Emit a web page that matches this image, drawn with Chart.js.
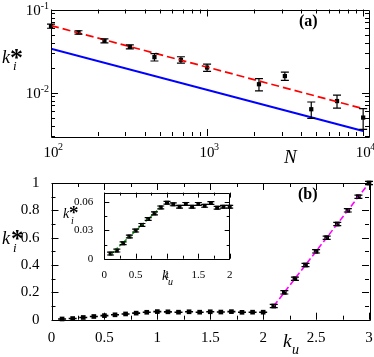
<!DOCTYPE html>
<html>
<head>
<meta charset="utf-8">
<script src="https://cdn.jsdelivr.net/npm/chart.js@4"></script>
<style>
  body { margin: 0; background: #fff; }
  #wrap { position: relative; width: 374px; height: 357px; }
  canvas { position: absolute; }
</style>
</head>
<body>
<div id="wrap">
  <canvas id="chartA" width="374" height="170" style="left:0;top:0"></canvas>
  <canvas id="chartB" width="374" height="187" style="left:0;top:170px"></canvas>
  <canvas id="inset" width="175" height="110" style="left:60px;top:183px"></canvas>
</div>
<script>
// (a) k_i* vs N
var sizeN = [100, 150, 220, 320, 460, 680, 1000, 2150, 3150, 4650, 6800, 10000];
var kiN = [0.063, 0.053, 0.042, 0.0355, 0.0267, 0.0248, 0.0200, 0.0126, 0.0158, 0.0063, 0.0079, 0.0050];
var kiNErr = [0.0035, 0.0025, 0.0024, 0.002, 0.0027, 0.0022, 0.002, 0.0021, 0.0018, 0.0014, 0.0014, 0.0014];
var fitN = [100, 10000];
var redFit = [0.064, 0.0064];
var blueFit = [0.0338, 0.00344];

// (b) k_i* vs k_u
var ku = [0.1, 0.2, 0.3, 0.4, 0.5, 0.6, 0.7, 0.8, 0.9, 1.0,
          1.1, 1.2, 1.3, 1.4, 1.5, 1.6, 1.7, 1.8, 1.9, 2.0,
          2.1, 2.2, 2.3, 2.4, 2.5, 2.6, 2.7, 2.8, 2.9, 3.0];
var kiU = [0.0054, 0.0086, 0.0163, 0.0235, 0.0298, 0.0358, 0.0421, 0.048, 0.0543, 0.0593,
           0.0576, 0.055, 0.058, 0.055, 0.058, 0.056, 0.059, 0.054, 0.055, 0.055,
           0.1, 0.2, 0.3, 0.4, 0.5, 0.6, 0.7, 0.8, 0.9, 1.0];
var kiUErr = [0.0015, 0.0015, 0.0015, 0.0015, 0.0015, 0.0015, 0.0015, 0.0015, 0.0015, 0.0015,
              0.0015, 0.0015, 0.0015, 0.0015, 0.0015, 0.0015, 0.0015, 0.0015, 0.0015, 0.0015,
              0.012, 0.012, 0.012, 0.012, 0.012, 0.012, 0.012, 0.012, 0.012, 0.012];
var greenX = [0.1, 0.9];
var greenFit = [0.0045, 0.0545];
var magentaX = [2.1, 3.0];
var magentaFit = [0.1, 1.0];

// tick values and labels
var aXTicks = [100, 1000, 10000], aXExp = ['2', '3', '4'];
var aYTicks = [0.01, 0.1], aYExp = ['-2', '-1'];
var bXTicks = [0, 0.5, 1, 1.5, 2, 2.5, 3], bXLabels = ['0', '0.5', '1', '1.5', '2', '2.5', '3'];
var bYTicks = [0, 0.2, 0.4, 0.6, 0.8, 1], bYLabels = ['0', '0.2', '0.4', '0.6', '0.8', '1'];
var inXTicks = [0, 0.5, 1, 1.5, 2], inXLabels = ['0', '0.5', '1', '1.5', '2'];
var inYTicks = [0, 0.03, 0.06], inYLabels = ['0', '0.03', '0.06'];

var SERIF = '"Liberation Serif", "Times New Roman", serif';

function pts(xs, ys) {
  return xs.map(function (x, i) { return { x: x, y: ys[i] }; });
}
function steps(a, b, s) {
  var out = [];
  for (var v = a; v <= b + 1e-9; v += s) out.push(+v.toFixed(4));
  return out;
}
function logMinor(lo, hi) {
  var out = [];
  for (var d = 1e-4; d <= 1e5; d *= 10)
    for (var m = 2; m <= 9; m++) { var v = m * d; if (v >= lo && v <= hi) out.push(v); }
  return out;
}

var errorBars = {
  id: 'errorBars',
  afterDatasetsDraw: function (chart) {
    var ctx = chart.ctx;
    chart.data.datasets.forEach(function (ds, i) {
      if (!ds.errors) return;
      var meta = chart.getDatasetMeta(i);
      var ys = chart.scales[meta.yAxisID];
      var half = (ds.capWidth || 8) / 2;
      ctx.save();
      ctx.strokeStyle = '#000';
      ctx.lineWidth = 1.2;
      meta.data.forEach(function (p, j) {
        var v = ds.data[j].y, e = ds.errors[j];
        var y1 = ys.getPixelForValue(v - e), y2 = ys.getPixelForValue(v + e);
        ctx.beginPath();
        ctx.moveTo(p.x, y1); ctx.lineTo(p.x, y2);
        ctx.moveTo(p.x - half, y1); ctx.lineTo(p.x + half, y1);
        ctx.moveTo(p.x - half, y2); ctx.lineTo(p.x + half, y2);
        ctx.stroke();
      });
      ctx.restore();
    });
  }
};

var frame = {
  id: 'frame',
  afterDraw: function (chart, args, o) {
    var ctx = chart.ctx, a = chart.chartArea;
    var xs = chart.scales.x, ys = chart.scales.y;
    ctx.save();
    ctx.strokeStyle = '#000';
    ctx.lineWidth = 1;
    ctx.beginPath();
    function vt(vals, len) {
      vals.forEach(function (v) {
        var px = Math.round(xs.getPixelForValue(v)) + 0.5;
        ctx.moveTo(px, a.bottom); ctx.lineTo(px, a.bottom - len);
        ctx.moveTo(px, a.top); ctx.lineTo(px, a.top + len);
      });
    }
    function ht(vals, len) {
      vals.forEach(function (v) {
        var py = Math.round(ys.getPixelForValue(v)) + 0.5;
        ctx.moveTo(a.left, py); ctx.lineTo(a.left + len, py);
        ctx.moveTo(a.right, py); ctx.lineTo(a.right - len, py);
      });
    }
    vt(o.xMajor, o.major); vt(o.xMinor, o.minor);
    ht(o.yMajor, o.major); ht(o.yMinor, o.minor);
    ctx.rect(Math.round(a.left) + 0.5, Math.round(a.top) + 0.5,
             Math.round(a.right - a.left), Math.round(a.bottom - a.top));
    ctx.stroke();

    // text: [text, x, y, font]
    ctx.fillStyle = '#000';
    ctx.textBaseline = 'alphabetic';
    (o.texts || []).forEach(function (t) {
      ctx.font = t[3] + ' ' + SERIF;
      ctx.textAlign = t[4] || 'left';
      ctx.fillText(t[0], t[1], t[2]);
    });

    // powers of ten
    if (o.logLabels) {
      o.logLabels.x.forEach(function (v, i) {
        var px = xs.getPixelForValue(v);
        ctx.font = '15px ' + SERIF;
        ctx.textAlign = 'center';
        ctx.fillText('10', px, a.bottom + 21);
        var w = ctx.measureText('10').width;
        ctx.font = '10px ' + SERIF;
        ctx.textAlign = 'left';
        ctx.fillText(o.logLabels.xe[i], px + w / 2 - 0.5, a.bottom + 14);
      });
      o.logLabels.y.forEach(function (v, i) {
        var py = ys.getPixelForValue(v);
        ctx.font = '10px ' + SERIF;
        ctx.textAlign = 'right';
        var ew = ctx.measureText(o.logLabels.ye[i]).width;
        ctx.fillText(o.logLabels.ye[i], a.left - 2, py - 1);
        ctx.font = '15px ' + SERIF;
        ctx.fillText('10', a.left - 2 - ew, py + 5);
      });
    }
    ctx.restore();
  }
};

function axis(type, min, max, fit, ticks, labels, font, pad) {
  return {
    type: type, min: min, max: max,
    grid: { display: false }, border: { display: false },
    afterBuildTicks: ticks ? function (s) { s.ticks = ticks.map(function (v) { return { value: v }; }); } : undefined,
    ticks: labels ? {
      color: '#000', padding: pad, maxRotation: 0, autoSkip: false,
      font: { family: SERIF, size: font },
      callback: function (v) { var k = ticks.indexOf(v); return k < 0 ? '' : labels[k]; }
    } : { display: false },
    afterFit: function (s) { if (s.isHorizontal()) s.height = fit; else s.width = fit; }
  };
}

function baseOptions(pad, xAxis, yAxis, frameOpts) {
  return {
    responsive: false, animation: false, events: [],
    layout: { padding: pad },
    plugins: { legend: { display: false }, tooltip: { enabled: false }, frame: frameOpts },
    scales: { x: xAxis, y: yAxis }
  };
}

// panel (a)
new Chart(document.getElementById('chartA'), {
  type: 'scatter',
  data: {
    datasets: [
      { data: pts(fitN, redFit), showLine: true, borderColor: '#ff0000', borderWidth: 1.7, borderDash: [8, 4], pointRadius: 0 },
      { data: pts(fitN, blueFit), showLine: true, borderColor: '#0000ff', borderWidth: 2, pointRadius: 0 },
      { data: pts(sizeN, kiN), errors: kiNErr, capWidth: 8, pointStyle: 'rect', pointRadius: 3,
        backgroundColor: '#000', borderColor: '#000', borderWidth: 0, clip: false }
    ]
  },
  options: baseOptions({ top: 9.5, right: 5, left: 0, bottom: 0 },
    axis('logarithmic', 100, 10900, 34, aXTicks, null),
    axis('logarithmic', 0.003, 0.1, 51, aYTicks, null),
    {
      xMajor: aXTicks, xMinor: logMinor(100, 10900), yMajor: aYTicks, yMinor: logMinor(0.003, 0.1),
      major: 7, minor: 4,
      logLabels: { x: aXTicks, xe: aXExp, y: aYTicks, ye: aYExp },
      texts: [
        ['k', 2, 63, 'italic 18px'], ['i', 13, 70, 'italic 13px'], ['*', 10, 66, 'bold 26px'],
        ['N', 284, 163, 'italic 19px'],
        ['(a)', 299, 26, 'bold 16px']
      ]
    }),
  plugins: [errorBars, frame]
});

// panel (b)
new Chart(document.getElementById('chartB'), {
  type: 'scatter',
  data: {
    datasets: [
      { data: pts(magentaX, magentaFit), showLine: true, borderColor: '#ff00ff', borderWidth: 1.6, borderDash: [6, 3], pointRadius: 0 },
      { data: pts(ku, kiU), errors: kiUErr, capWidth: 8, pointStyle: 'rect', pointRadius: 3.3,
        backgroundColor: '#000', borderColor: '#000', borderWidth: 0, clip: false }
    ]
  },
  options: baseOptions({ top: 9, right: 5, left: 0, bottom: 0 },
    axis('linear', 0, 3, 37.3, bXTicks, bXLabels, 15, 1),
    axis('linear', 0, 1, 51.5, bYTicks, bYLabels, 15, 4),
    {
      xMajor: bXTicks, xMinor: steps(0.25, 2.75, 0.5), yMajor: bYTicks, yMinor: steps(0.1, 0.9, 0.2),
      major: 7, minor: 4,
      texts: [
        ['k', 2, 74, 'italic 18px'], ['i', 13, 82, 'italic 13px'], ['*', 11, 77, 'bold 25px'],
        ['k', 283, 177, 'italic 19px'], ['u', 292, 184, 'italic 14px'],
        ['(b)', 298, 29, 'bold 16px']
      ]
    }),
  plugins: [errorBars, frame]
});

// inset of (b)
new Chart(document.getElementById('inset'), {
  type: 'scatter',
  data: {
    datasets: [
      { data: pts(greenX, greenFit), showLine: true, borderColor: '#1e9e1e', borderWidth: 1.5, borderDash: [4, 2], pointRadius: 0 },
      { data: pts(ku.slice(0, 20), kiU.slice(0, 20)), errors: kiUErr.slice(0, 20), capWidth: 7, pointStyle: 'rect', pointRadius: 2.8,
        backgroundColor: '#000', borderColor: '#000', borderWidth: 0, clip: false }
    ]
  },
  options: baseOptions({ top: 5.3, right: 5.3, left: 0, bottom: 0 },
    axis('linear', 0, 2, 34.3, inXTicks, inXLabels, 11, 2),
    axis('linear', 0, 0.07, 44.3, inYTicks, inYLabels, 11, 3),
    {
      xMajor: inXTicks, xMinor: steps(0.25, 1.75, 0.5), yMajor: inYTicks, yMinor: [0.015, 0.045],
      major: 5, minor: 3,
      texts: [
        ['k', 3, 35, 'italic 14px'], ['i', 11, 41, 'italic 10px'], ['*', 9, 36, 'bold 19px'],
        ['k', 102, 97, 'italic 14px'], ['u', 108, 102, 'italic 10px']
      ]
    }),
  plugins: [errorBars, frame]
});
</script>
</body>
</html>
